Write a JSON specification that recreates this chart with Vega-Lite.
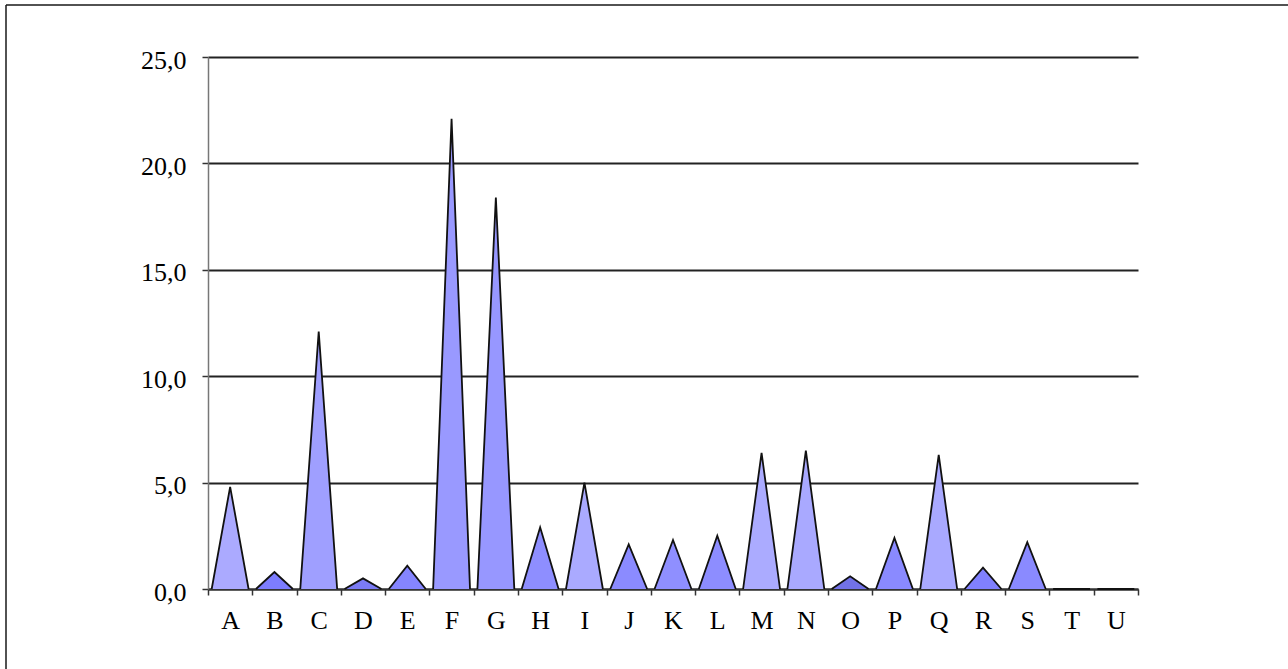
{
  "$schema": "https://vega.github.io/schema/vega-lite/v6.json",
  "width": 1282,
  "height": 664,
  "padding": {"left": 6, "top": 5, "right": 0, "bottom": 0},
  "autosize": {"type": "none"},
  "background": "white",
  "config": {
    "view": {"stroke": "#1a1a1a", "strokeWidth": 1.5, "strokeDash": [1282, 1946, 664, 0]},
    "font": "Liberation Serif"
  },
  "data": {
    "values": [
      {"item": "A", "peak": 4.8},
      {"item": "B", "peak": 0.8},
      {"item": "C", "peak": 12.1},
      {"item": "D", "peak": 0.5},
      {"item": "E", "peak": 1.1},
      {"item": "F", "peak": 22.1},
      {"item": "G", "peak": 18.4},
      {"item": "H", "peak": 2.9},
      {"item": "I", "peak": 5.0},
      {"item": "J", "peak": 2.1},
      {"item": "K", "peak": 2.3},
      {"item": "L", "peak": 2.5},
      {"item": "M", "peak": 6.4},
      {"item": "N", "peak": 6.5},
      {"item": "O", "peak": 0.6},
      {"item": "P", "peak": 2.4},
      {"item": "Q", "peak": 6.3},
      {"item": "R", "peak": 1.0},
      {"item": "S", "peak": 2.2},
      {"item": "T", "peak": 0},
      {"item": "U", "peak": 0}
    ]
  },
  "transform": [
    {"fold": ["peak"], "as": ["vertex", "value"]},
    {"impute": "value", "key": "vertex", "keyvals": ["left", "peak", "right"], "groupby": ["item"], "value": 0}
  ],
  "mark": {"type": "line", "stroke": "#111111", "strokeWidth": 1.8, "interpolate": "linear"},
  "encoding": {
    "x": {
      "field": "item",
      "type": "nominal",
      "scale": {"type": "band", "range": [202, 1132], "paddingInner": 0, "paddingOuter": 0},
      "axis": {
        "title": null,
        "offset": -80,
        "labelAngle": 0,
        "labelFont": "Liberation Serif",
        "labelFontSize": 26,
        "labelColor": "#000000",
        "labelPadding": 12,
        "tickBand": "extent",
        "tickSize": 6,
        "tickColor": "#333333",
        "tickWidth": 1.5,
        "domainColor": "#333333",
        "domainWidth": 2,
        "grid": false
      }
    },
    "xOffset": {
      "field": "vertex",
      "type": "nominal",
      "scale": {"type": "point", "domain": ["left", "peak", "right"], "padding": 0.2}
    },
    "y": {
      "field": "value",
      "type": "quantitative",
      "stack": null,
      "scale": {"domain": [0, 25], "range": [584, 52], "nice": false},
      "axis": {
        "title": null,
        "offset": -202,
        "values": [0, 5, 10, 15, 20, 25],
        "labelExpr": "replace(format(datum.value, '.1f'), '.', ',')",
        "labelFont": "Liberation Serif",
        "labelFontSize": 26,
        "labelColor": "#000000",
        "labelPadding": 16,
        "labelOffset": 3,
        "tickSize": 6,
        "tickColor": "#333333",
        "tickWidth": 1.5,
        "domainColor": "#777777",
        "domainWidth": 1.5,
        "grid": true,
        "gridColor": "#222222",
        "gridWidth": 2
      }
    },
    "fill": {
      "field": "item",
      "type": "nominal",
      "scale": {
        "domain": ["A","B","C","D","E","F","G","H","I","J","K","L","M","N","O","P","Q","R","S","T","U"],
        "range": ["#abaaff","#7d7dff","#9f9fff","#7b7bf5","#8585ff","#9999ff","#9797ff","#8e8eff","#aaaaff","#8b8bff","#8f8fff","#8d8dff","#ababff","#a9a9ff","#7272e8","#8a8aff","#a9a9ff","#8080ff","#8a8aff","#8888ff","#8888ff"]
      },
      "legend": null
    },
    "order": {"field": "vertex"}
  }
}
